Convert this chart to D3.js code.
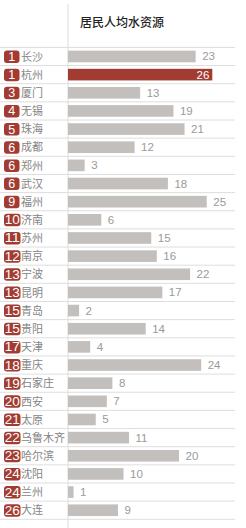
<!DOCTYPE html>
<html>
<head>
<meta charset="utf-8">
<script src="https://cdn.jsdelivr.net/npm/d3@7"></script>
<style>
  html, body { margin: 0; padding: 0; background: #fff; }
  svg { display: block; font-family: "Noto Sans CJK SC", "Liberation Sans", sans-serif; }
</style>
</head>
<body>
<div id="chart"></div>
<script>
// 居民人均水资源 — ranked bars
const TITLE = "居民人均水资源";
const cities = ["长沙","杭州","厦门","无锡","珠海","成都","郑州","武汉","福州","济南","苏州","南京","宁波","昆明","青岛","贵阳","天津","重庆","石家庄","西安","太原","乌鲁木齐","哈尔滨","沈阳","兰州","大连"];
const ranks  = [1,1,3,4,5,6,6,6,9,10,11,12,13,13,15,15,17,18,19,20,21,22,23,24,24,26];
const values = [23,26,13,19,21,12,3,18,25,6,15,16,22,17,2,14,4,24,8,7,5,11,20,10,1,9];
const HIGHLIGHT = "杭州";

const RED = "#a23c33", GREY = "#c3bfbd";
const W = 246, H = 528;
const axisX = 68, lineEnd = 235;

const svg = d3.select("#chart").append("svg").attr("width", W).attr("height", H);

const x = d3.scaleLinear().domain([0, 26]).range([axisX, 212.3]);
const y = d3.scaleBand().domain(cities).range([47.4, 519.3]).padding(0);
const barH = y.bandwidth() * 0.64;
const cy = d => y(d) + y.bandwidth() / 2;

// vertical rule
svg.append("line").attr("x1", axisX).attr("x2", axisX).attr("y1", 4).attr("y2", H)
    .attr("stroke", "#e2e2e2").attr("stroke-width", 1.2);

// row separators
const bounds = cities.map(c => y(c)).concat([y.range()[1]]);
svg.selectAll(".sep").data(bounds).enter().append("line")
    .attr("x1", 0).attr("x2", lineEnd)
    .attr("y1", d => d).attr("y2", d => d)
    .attr("stroke", "#dedede").attr("stroke-width", 1);

svg.append("text").attr("x", 80).attr("y", 26.5)
    .style("font-size", "12px").style("font-weight", 500).style("fill", "#222")
    .text(TITLE);

const rows = cities.map((c, i) => ({ city: c, rank: ranks[i], value: values[i] }));

const g = svg.selectAll(".row").data(rows).enter().append("g");

g.append("rect")
    .attr("x", x(0)).attr("y", d => cy(d.city) - barH / 2)
    .attr("width", d => x(d.value) - x(0)).attr("height", barH)
    .attr("fill", d => d.city === HIGHLIGHT ? RED : GREY);

g.append("text")
    .attr("x", d => d.city === HIGHLIGHT ? x(d.value) - 3 : x(d.value) + 6.5)
    .attr("y", d => cy(d.city) + 4)
    .attr("text-anchor", d => d.city === HIGHLIGHT ? "end" : "start")
    .style("font-family", "'Liberation Sans', sans-serif")
    .style("font-size", "11.5px")
    .style("fill", d => d.city === HIGHLIGHT ? "#fff" : "#9a9a9a")
    .text(d => d.value);

// rank badges
g.append("rect")
    .attr("x", 4).attr("y", d => cy(d.city) - 6)
    .attr("width", d => d.rank >= 10 ? 16.5 : 15.5).attr("height", 12.5)
    .attr("rx", 3).attr("fill", RED);

g.append("text")
    .attr("x", d => d.rank >= 10 ? 12.2 : 11.8).attr("y", d => cy(d.city) + 4.5)
    .attr("text-anchor", "middle")
    .attr("textLength", d => d.rank >= 10 ? 15 : null)
    .attr("lengthAdjust", "spacingAndGlyphs")
    .style("font-family", "'Liberation Sans', sans-serif")
    .style("font-size", "12.5px").style("fill", "#fff")
    .text(d => d.rank);

g.append("text")
    .attr("x", 21).attr("y", d => cy(d.city) + 4.2)
    .style("font-size", "11px").style("fill", "#858585")
    .text(d => d.city);
</script>
</body>
</html>
